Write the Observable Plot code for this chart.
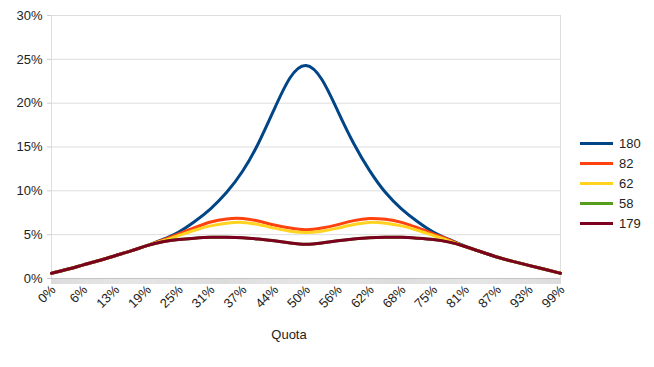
<!DOCTYPE html>
<html>
<head>
<meta charset="utf-8">
<script src="https://cdn.jsdelivr.net/npm/d3@7"></script>
<script src="https://cdn.jsdelivr.net/npm/@observablehq/plot@0.6"></script>
<style>
  html, body { margin: 0; padding: 0; background: #fff; }
  #wrap { position: relative; width: 654px; height: 367px; font-family: "Liberation Sans", Arial, sans-serif; }
  #legend { position: absolute; left: 580px; top: 133px; font-size: 13px; color: #222; }
  #legend .row { display: flex; align-items: center; height: 20px; }
  #legend .sw { width: 33px; height: 3px; margin-right: 6px; }
</style>
</head>
<body>
<div id="wrap"><div id="legend"></div></div>
<script>
// Category tick labels (every labelled category on the x axis)
const xLabels = ["0%","6%","13%","19%","25%","31%","37%","44%","50%","56%","62%","68%","75%","81%","87%","93%","99%"];
// Series names and colours
const seriesNames = ["180","82","62","58","179"];
const seriesColors = ["#004586","#ff420e","#ffd320","#579d1c","#7e0021"];
// Values in percent, sampled every half label step (33 samples)
const s180 = [0.6,1.05,1.55,2.05,2.6,3.15,3.75,4.45,5.3,6.5,7.95,9.8,12.2,15.4,19.3,22.9,24.3,22.7,19.1,15.4,12.3,9.8,7.95,6.5,5.3,4.45,3.7,3.05,2.45,1.95,1.5,1.05,0.6];
const s82  = [0.6,1.05,1.55,2.05,2.6,3.15,3.75,4.4,5.1,5.8,6.45,6.8,6.85,6.55,6.1,5.75,5.55,5.75,6.15,6.6,6.85,6.75,6.4,5.8,5.1,4.4,3.65,3.05,2.45,1.95,1.5,1.05,0.6];
const s62  = [0.6,1.05,1.55,2.05,2.6,3.15,3.75,4.3,4.9,5.5,6.0,6.3,6.4,6.15,5.75,5.4,5.25,5.4,5.75,6.15,6.4,6.3,6.0,5.5,4.9,4.3,3.65,3.05,2.45,1.95,1.5,1.05,0.6];
const s58  = [0.6,1.05,1.55,2.05,2.6,3.15,3.75,4.2,4.45,4.6,4.7,4.7,4.65,4.5,4.3,4.05,3.9,4.05,4.3,4.5,4.65,4.7,4.7,4.6,4.45,4.15,3.65,3.05,2.45,1.95,1.5,1.05,0.6];
const s179 = [0.6,1.05,1.55,2.05,2.6,3.15,3.75,4.2,4.45,4.6,4.7,4.7,4.65,4.5,4.3,4.05,3.9,4.05,4.3,4.5,4.65,4.7,4.7,4.6,4.45,4.15,3.65,3.05,2.45,1.95,1.5,1.05,0.6];
const yTicks = [0,5,10,15,20,25,30];

const allSeries = [s180, s82, s62, s58, s179];
const rows = [];
allSeries.forEach((vals, k) => {
  vals.forEach((v, i) => rows.push({series: seriesNames[k], t: i / 2, v}));
});

const chart = Plot.plot({
  width: 654,
  height: 367,
  marginLeft: 51,
  marginRight: 94,
  marginTop: 15,
  marginBottom: 89,
  style: {fontFamily: "Liberation Sans, Arial, sans-serif", fontSize: "13px", color: "#222", background: "#fff"},
  x: {domain: [0, xLabels.length - 1]},
  y: {domain: [0, 30]},
  color: {domain: seriesNames, range: seriesColors},
  marks: [
    Plot.gridY(yTicks, {stroke: "#dddddd", strokeOpacity: 1}),
    Plot.ruleX([0, xLabels.length - 1], {stroke: "#dddddd"}),
    Plot.axisY(yTicks, {tickSize: 4, tickPadding: 5, stroke: "#cccccc", fill: "#222", tickFormat: d => d + "%", label: null}),
    Plot.axisX({ticks: d3.range(0, xLabels.length - 1 + 1e-9, 1 / 32), tickSize: 6, stroke: "#dcdcdc", tickFormat: () => "", label: null}),
    Plot.axisX({ticks: d3.range(xLabels.length), tickSize: 0, tickPadding: 9, tickRotate: -45, tickFormat: i => xLabels[i], fill: "#222", label: null, dx: 2}),
    Plot.ruleY([0], {stroke: "#c4c4c4"}),
    Plot.line(rows, {x: "t", y: "v", z: "series", stroke: "series", strokeWidth: 3, curve: "natural"}),
    Plot.text(["Quota"], {frameAnchor: "bottom", dy: 60, dx: -17, fill: "#222", fontSize: 13})
  ]
});

const wrap = document.getElementById("wrap");
wrap.insertBefore(chart, wrap.firstChild);

const legend = document.getElementById("legend");
seriesNames.forEach((name, k) => {
  const row = document.createElement("div");
  row.className = "row";
  const sw = document.createElement("div");
  sw.className = "sw";
  sw.style.background = seriesColors[k];
  const lab = document.createElement("span");
  lab.textContent = name;
  row.appendChild(sw);
  row.appendChild(lab);
  legend.appendChild(row);
});
</script>
</body>
</html>
